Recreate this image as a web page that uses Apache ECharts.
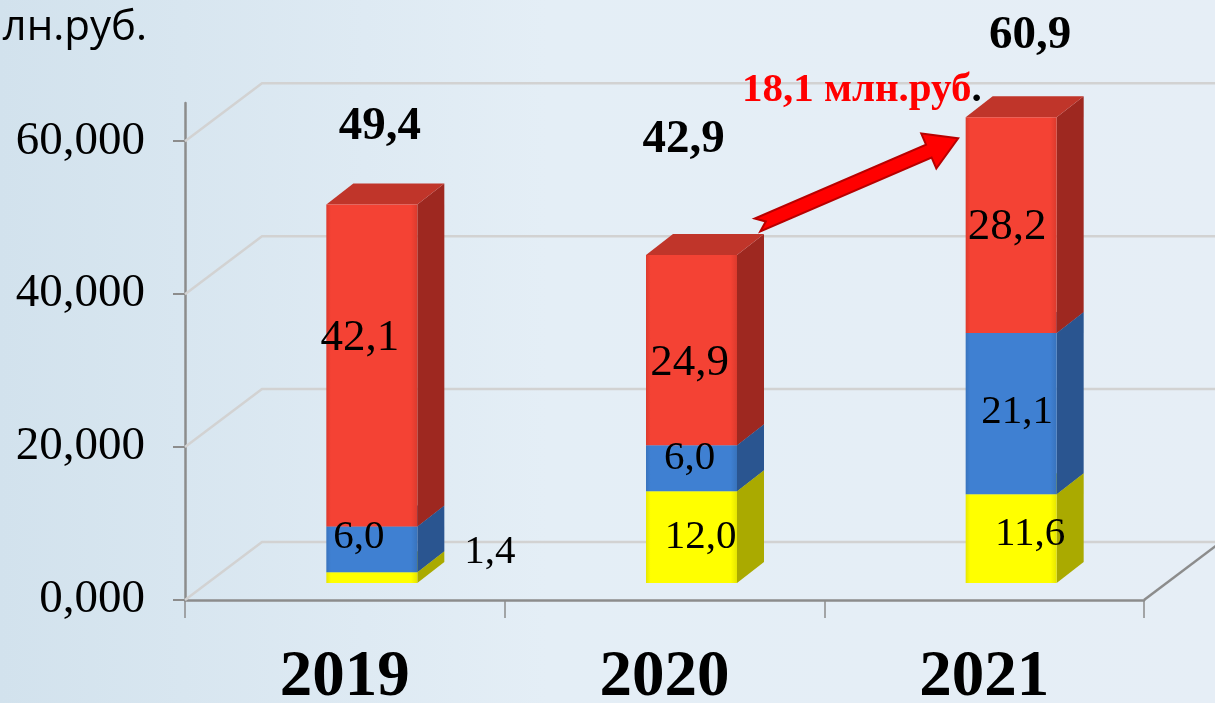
<!DOCTYPE html>
<html lang="ru">
<head>
<meta charset="UTF-8" />
<title>млн.руб.</title>
<script src="https://cdn.jsdelivr.net/npm/echarts@6/dist/echarts.min.js"></script>
<style>
  body{margin:0;padding:0;}
  #main{width:1215px;height:703px;}
</style>
</head>
<body>
<div id="main"></div>
<script>
// данные
var years = ['2019', '2020', '2021'];
var yellowVals = [1.4, 12.0, 11.6];
var blueVals = [6.0, 6.0, 21.1];
var redVals = [42.1, 24.9, 28.2];
var totals = [49.4, 42.9, 60.9];
var yTicks = [0, 20, 40, 60];
var growthText = '18,1 млн.руб';

// псевдо-3D
var SERIF = "'Liberation Serif','Times New Roman',serif";
var BAR_W = 91, SHIFT_X = -18.5, SHIFT_Y = -17;   // передняя грань
var DX = 27, DY = -21;                           // глубина столбика
var WALL_DX = 77, WALL_DY = -58;                 // глубина стенки

// сдвиги подписей, [dx, dy]
var yellowNudge = [[118, -25], [9, 0], [19, -4]];
var blueNudge = [[-13, -12], [-2, -10], [6, -1]];
var redNudge = [[-12, -27], [-2, 13], [-4, 2]];
var totalNudge = [[8, -78], [-8, -115], [19, -81]];

var fmt = function (v) { return v.toFixed(1).replace('.', ','); };

function stackData(vals, below) {
  return vals.map(function (v, i) {
    var base = 0;
    below.forEach(function (arr) { base += arr[i]; });
    return [i, base, base + v];
  });
}

function boxRenderer(colors, nudge, fontSize) {
  return function (params, api) {
    var i = api.value(0);
    var p0 = api.coord([i, api.value(1)]);
    var p1 = api.coord([i, api.value(2)]);
    var x0 = p0[0] + SHIFT_X, x1 = x0 + BAR_W;
    var yb = p0[1] + SHIFT_Y, yt = p1[1] + SHIFT_Y;
    var v = api.value(2) - api.value(1);
    return {
      type: 'group',
      children: [
        { type: 'polygon', shape: { points: [[x1, yb], [x1 + DX, yb + DY], [x1 + DX, yt + DY], [x1, yt]] },
          style: { fill: colors[1] } },
        { type: 'polygon', shape: { points: [[x0, yt], [x0 + DX, yt + DY], [x1 + DX, yt + DY], [x1, yt]] },
          style: { fill: colors[2] } },
        { type: 'rect', shape: { x: x0, y: yt, width: BAR_W, height: yb - yt },
          style: { fill: new echarts.graphic.LinearGradient(0, 0, 1, 0, [
            { offset: 0, color: colors[3] }, { offset: 0.05, color: colors[0] },
            { offset: 0.93, color: colors[0] }, { offset: 1, color: colors[3] }]) } },
        { type: 'text', z2: 10,
          style: { text: fmt(v), x: (x0 + x1) / 2 + nudge[i][0], y: (yt + yb) / 2 + nudge[i][1],
            align: 'center', verticalAlign: 'middle', font: fontSize + 'px ' + SERIF, fill: '#000' } }
      ]
    };
  };
}

var chart = echarts.init(document.getElementById('main'));

var option = {
  backgroundColor: new echarts.graphic.LinearGradient(0, 0, 1, 0, [
    { offset: 0, color: '#d2e2ed' }, { offset: 0.45, color: '#e4eef6' }, { offset: 1, color: '#e6eef6' }]),
  animation: false,
  grid: { left: 185, right: 71, top: 103, bottom: 103, containLabel: false, outerBoundsMode: 'none' },
  xAxis: {
    type: 'category',
    data: years,
    boundaryGap: true,
    axisLine: { lineStyle: { color: '#8c8c8c', width: 2.5 } },
    axisTick: { show: true, length: 18, lineStyle: { color: '#8c8c8c', width: 1.5 } },
    axisLabel: { color: '#000', fontFamily: SERIF, fontWeight: 'bold', fontSize: 65, margin: 46 },
    splitLine: { show: false }
  },
  yAxis: {
    type: 'value',
    min: 0, max: 65, interval: 20,
    axisLine: { show: true, lineStyle: { color: '#8c8c8c', width: 2.5 } },
    axisTick: { show: true, length: 12, customValues: yTicks, lineStyle: { color: '#8c8c8c', width: 2 } },
    axisLabel: { color: '#000', fontFamily: SERIF, fontSize: 47, margin: 40, customValues: yTicks,
      formatter: function (v) { return v.toFixed(3).replace('.', ','); } },
    splitLine: { show: false }
  },
  series: [
    {
      type: 'custom', name: 'wall', silent: true, clip: false, z: 1,
      data: yTicks.map(function (t) { return [0, t]; }),
      encode: { x: 0, y: 1 },
      renderItem: function (params, api) {
        var cs = params.coordSys;
        var y = api.coord([0, api.value(1)])[1];
        var xl = cs.x, xr = cs.x + cs.width;
        var kids = [
          { type: 'polyline', shape: { points: [[xl, y], [xl + WALL_DX, y + WALL_DY], [xr + WALL_DX + 10, y + WALL_DY]] },
            style: { stroke: '#d2d2d2', lineWidth: 2.5, fill: null } }
        ];
        if (api.value(1) === 0) {
          kids.push({ type: 'line', shape: { x1: xr, y1: y, x2: xr + WALL_DX, y2: y + WALL_DY },
            style: { stroke: '#8c8c8c', lineWidth: 2.5 } });
        }
        return { type: 'group', children: kids };
      }
    },
    { type: 'custom', name: 'yellow', z: 3, encode: { x: 0, y: [1, 2] },
      data: stackData(yellowVals, []),
      renderItem: boxRenderer(['#ffff00', '#aaaa00', '#c8c800', '#e6e600'], yellowNudge, 41) },
    { type: 'custom', name: 'blue', z: 3, encode: { x: 0, y: [1, 2] },
      data: stackData(blueVals, [yellowVals]),
      renderItem: boxRenderer(['#3f80d2', '#2a5590', '#33699f', '#3873bd'], blueNudge, 41) },
    { type: 'custom', name: 'red', z: 3, encode: { x: 0, y: [1, 2] },
      data: stackData(redVals, [yellowVals, blueVals]),
      renderItem: boxRenderer(['#f44234', '#9e2820', '#c0352a', '#dc3a2d'], redNudge, 45) },
    { type: 'custom', name: 'total', z: 4, clip: false, encode: { x: 0, y: 1 },
      data: totals.map(function (t, i) {
        return [i, yellowVals[i] + blueVals[i] + redVals[i], t];
      }),
      renderItem: function (params, api) {
        var i = api.value(0);
        var p = api.coord([i, api.value(1)]);
        var cx = p[0] + SHIFT_X + BAR_W / 2;
        return { type: 'text',
          style: { text: fmt(api.value(2)), x: cx + totalNudge[i][0], y: p[1] + SHIFT_Y + totalNudge[i][1],
            align: 'center', verticalAlign: 'middle', font: 'bold 47px ' + SERIF, fill: '#000' } };
      }
    }
  ]
};
chart.setOption(option);

// стрелка прироста 2020 -> 2021
var top20 = chart.convertToPixel({ gridIndex: 0 }, [1, yellowVals[1] + blueVals[1] + redVals[1]]);
var top21 = chart.convertToPixel({ gridIndex: 0 }, [2, yellowVals[2] + blueVals[2] + redVals[2]]);
var tail = [top20[0] + 93, top20[1] - 47];
var tip = [top21[0] - 26, top21[1] + 4];
var ux = tip[0] - tail[0], uy = tip[1] - tail[1];
var len = Math.sqrt(ux * ux + uy * uy); ux /= len; uy /= len;
var nx = -uy, ny = ux;
var sw = 7, hw = 19, hl = 32, notch = 9;
function pt(a, b) { return [tail[0] + ux * a + nx * b, tail[1] + uy * a + ny * b]; }
var arrowPts = [pt(notch, 0), pt(0, sw), pt(len - hl, sw), pt(len - hl, hw), pt(len, 0),
  pt(len - hl, -hw), pt(len - hl, -sw), pt(0, -sw)];

chart.setOption({
  graphic: [
    { type: 'polygon', z: 50, shape: { points: arrowPts },
      style: { fill: '#ff0000', stroke: '#b80000', lineWidth: 2 } },
    { type: 'text', z: 50, left: 742, top: 70,
      style: { text: '{r|' + growthText + '}{k|.}',
        rich: { r: { font: 'bold 41px ' + SERIF, fill: '#ff0000' }, k: { font: 'bold 41px ' + SERIF, fill: '#000' } } } },
    { type: 'text', z: 50, x: 147, y: 28,
      style: { text: 'млн.руб.', align: 'right', verticalAlign: 'middle',
        font: "42px 'Open Sans','Noto Sans',sans-serif", fill: '#000' } }
  ]
});
</script>
</body>
</html>
